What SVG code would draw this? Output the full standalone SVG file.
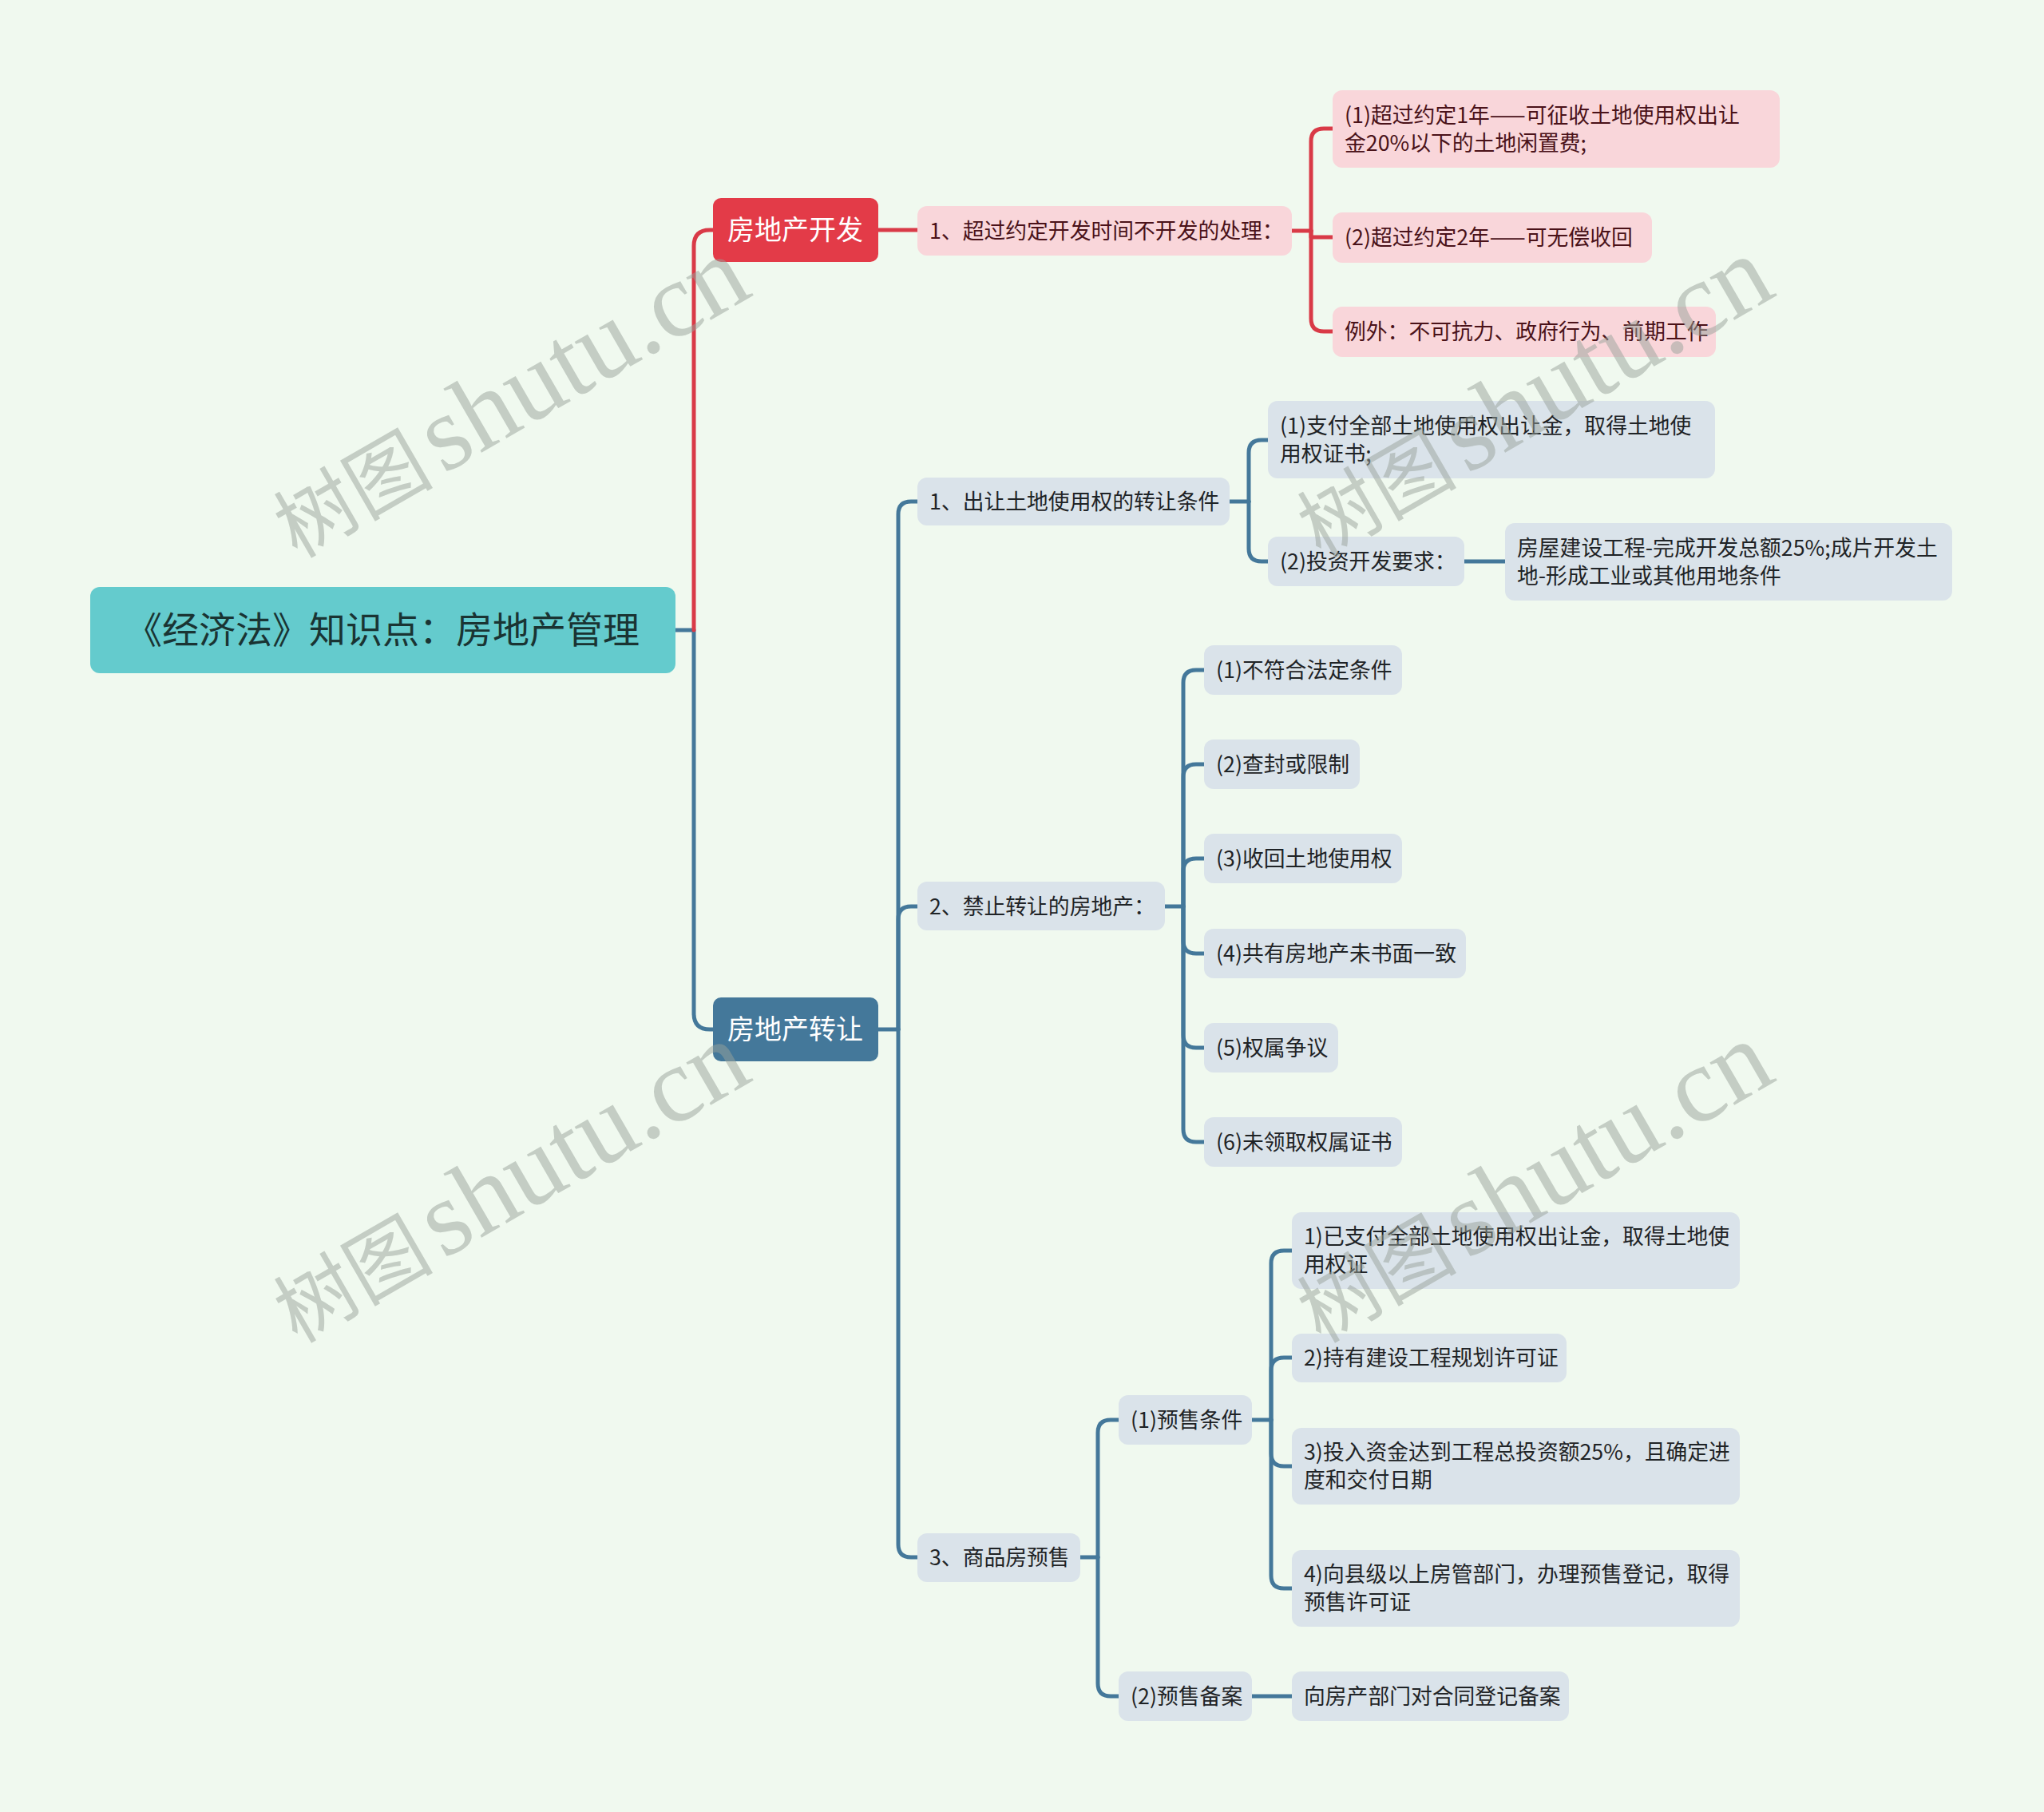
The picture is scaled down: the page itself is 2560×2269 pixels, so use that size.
<svg xmlns="http://www.w3.org/2000/svg" width="2560" height="2269" viewBox="0 0 2560 2269">
<style>
.bg{fill:#F0F9EF}
.t{font-family:"Noto Sans CJK SC","Noto Sans",sans-serif}
.root rect{fill:#64CBCD}
.root text{fill:#1A3433;font-size:46px}
.l1r rect{fill:#E33B48}
.l1b rect{fill:#44789A}
.l1r text,.l1b text{fill:#FFFFFF;font-size:34px}
.pk rect{fill:#F9D6DA}
.pk text{fill:#4A1219;font-size:26.8px}
.bl rect{fill:#DAE3EA}
.bl text{fill:#1F2326;font-size:26.8px}
.cr{fill:none;stroke:#D93A47;stroke-width:5;stroke-linecap:round;stroke-linejoin:round}
.cb{fill:none;stroke:#44789A;stroke-width:5;stroke-linecap:round;stroke-linejoin:round}
.wm{fill:#97A299;fill-opacity:0.5;font-family:"Liberation Serif","Noto Sans CJK SC",serif}
</style>
<rect class="bg" x="0" y="0" width="2560" height="2269"/>

<g id="connectors">
<path class="cb" d="M846,789 H869 V1269 Q869,1289 889,1289 H893"/>
<path class="cr" d="M869,789 V308 Q869,288 889,288 H893"/>
<path class="cr" d="M1100,288 H1149"/>
<path class="cr" d="M1618,289 H1642"/>
<path class="cr" d="M1642,289 V177 Q1642,161 1658,161 H1669"/>
<path class="cr" d="M1642,289 V297 H1669"/>
<path class="cr" d="M1642,289 V399 Q1642,415 1658,415 H1669"/>

<path class="cb" d="M1100,1289 H1125"/>
<path class="cb" d="M1125,1289 V644 Q1125,628 1141,628 H1149"/>
<path class="cb" d="M1125,1289 V1151 Q1125,1135 1141,1135 H1149"/>
<path class="cb" d="M1125,1289 V1934 Q1125,1950 1141,1950 H1149"/>

<path class="cb" d="M1540,628 H1564"/>
<path class="cb" d="M1564,628 V567 Q1564,551 1580,551 H1588"/>
<path class="cb" d="M1564,628 V687 Q1564,703 1580,703 H1588"/>
<path class="cb" d="M1834,703 H1885"/>

<path class="cb" d="M1459,1135 H1482"/>
<path class="cb" d="M1482,1135 V855 Q1482,839 1498,839 H1508"/>
<path class="cb" d="M1482,1135 V973 Q1482,957 1498,957 H1508"/>
<path class="cb" d="M1482,1135 V1091 Q1482,1075 1498,1075 H1508"/>
<path class="cb" d="M1482,1135 V1178 Q1482,1194 1498,1194 H1508"/>
<path class="cb" d="M1482,1135 V1296 Q1482,1312 1498,1312 H1508"/>
<path class="cb" d="M1482,1135 V1414 Q1482,1430 1498,1430 H1508"/>

<path class="cb" d="M1353,1950 H1375"/>
<path class="cb" d="M1375,1950 V1794 Q1375,1778 1391,1778 H1401"/>
<path class="cb" d="M1375,1950 V2108 Q1375,2124 1391,2124 H1401"/>

<path class="cb" d="M1568,1778 H1592"/>
<path class="cb" d="M1592,1778 V1582 Q1592,1566 1608,1566 H1618"/>
<path class="cb" d="M1592,1778 V1716 Q1592,1700 1608,1700 H1618"/>
<path class="cb" d="M1592,1778 V1820 Q1592,1836 1608,1836 H1618"/>
<path class="cb" d="M1592,1778 V1973 Q1592,1989 1608,1989 H1618"/>
<path class="cb" d="M1568,2124 H1618"/>
</g>

<g id="root" class="root t">
<rect x="113" y="735" width="733" height="108" rx="12"/>
<text x="479" y="805" text-anchor="middle">《经济法》知识点：房地产管理</text>
</g>

<g id="dev" class="l1r t">
<rect x="893" y="248" width="207" height="80" rx="10"/>
<text x="996" y="300" text-anchor="middle">房地产开发</text>
</g>
<g id="transfer" class="l1b t">
<rect x="893" y="1249" width="207" height="80" rx="10"/>
<text x="996" y="1301" text-anchor="middle">房地产转让</text>
</g>

<g id="dev-1" class="pk t">
<rect x="1149" y="258" width="469" height="62" rx="12"/>
<text x="1164" y="299">1、超过约定开发时间不开发的处理：</text>
</g>
<g id="dev-1-1" class="pk t">
<rect x="1669" y="113" width="560" height="97" rx="12"/>
<text x="1684" y="154">(1)超过约定1年——可征收土地使用权出让</text>
<text x="1684" y="189">金20%以下的土地闲置费;</text>
</g>
<g id="dev-1-2" class="pk t">
<rect x="1669" y="266" width="400" height="63" rx="12"/>
<text x="1684" y="307">(2)超过约定2年——可无偿收回</text>
</g>
<g id="dev-1-3" class="pk t">
<rect x="1669" y="384" width="480" height="63" rx="12"/>
<text x="1684" y="425">例外：不可抗力、政府行为、前期工作</text>
</g>

<g id="tr-1" class="bl t">
<rect x="1149" y="598" width="391" height="60" rx="12"/>
<text x="1164" y="638">1、出让土地使用权的转让条件</text>
</g>
<g id="tr-1-1" class="bl t">
<rect x="1588" y="502" width="560" height="97" rx="12"/>
<text x="1603" y="543">(1)支付全部土地使用权出让金，取得土地使</text>
<text x="1603" y="578">用权证书;</text>
</g>
<g id="tr-1-2" class="bl t">
<rect x="1588" y="672" width="246" height="62" rx="12"/>
<text x="1603" y="713">(2)投资开发要求：</text>
</g>
<g id="tr-1-2-1" class="bl t">
<rect x="1885" y="655" width="560" height="97" rx="12"/>
<text x="1900" y="696">房屋建设工程-完成开发总额25%;成片开发土</text>
<text x="1900" y="731">地-形成工业或其他用地条件</text>
</g>

<g id="tr-2" class="bl t">
<rect x="1149" y="1104" width="310" height="61" rx="12"/>
<text x="1164" y="1145">2、禁止转让的房地产：</text>
</g>
<g id="tr-2-1" class="bl t">
<rect x="1508" y="808" width="248" height="62" rx="12"/>
<text x="1523" y="849">(1)不符合法定条件</text>
</g>
<g id="tr-2-2" class="bl t">
<rect x="1508" y="926" width="195" height="62" rx="12"/>
<text x="1523" y="967">(2)查封或限制</text>
</g>
<g id="tr-2-3" class="bl t">
<rect x="1508" y="1044" width="248" height="62" rx="12"/>
<text x="1523" y="1085">(3)收回土地使用权</text>
</g>
<g id="tr-2-4" class="bl t">
<rect x="1508" y="1163" width="328" height="62" rx="12"/>
<text x="1523" y="1204">(4)共有房地产未书面一致</text>
</g>
<g id="tr-2-5" class="bl t">
<rect x="1508" y="1281" width="168" height="62" rx="12"/>
<text x="1523" y="1322">(5)权属争议</text>
</g>
<g id="tr-2-6" class="bl t">
<rect x="1508" y="1399" width="248" height="62" rx="12"/>
<text x="1523" y="1440">(6)未领取权属证书</text>
</g>

<g id="tr-3" class="bl t">
<rect x="1149" y="1920" width="204" height="61" rx="12"/>
<text x="1164" y="1960">3、商品房预售</text>
</g>
<g id="tr-3-1" class="bl t">
<rect x="1401" y="1747" width="167" height="62" rx="12"/>
<text x="1416" y="1788">(1)预售条件</text>
</g>
<g id="tr-3-1-1" class="bl t">
<rect x="1618" y="1518" width="561" height="96" rx="12"/>
<text x="1633" y="1558">1)已支付全部土地使用权出让金，取得土地使</text>
<text x="1633" y="1593">用权证</text>
</g>
<g id="tr-3-1-2" class="bl t">
<rect x="1618" y="1670" width="344" height="61" rx="12"/>
<text x="1633" y="1710">2)持有建设工程规划许可证</text>
</g>
<g id="tr-3-1-3" class="bl t">
<rect x="1618" y="1788" width="561" height="96" rx="12"/>
<text x="1633" y="1828">3)投入资金达到工程总投资额25%，且确定进</text>
<text x="1633" y="1863">度和交付日期</text>
</g>
<g id="tr-3-1-4" class="bl t">
<rect x="1618" y="1941" width="561" height="96" rx="12"/>
<text x="1633" y="1981">4)向县级以上房管部门，办理预售登记，取得</text>
<text x="1633" y="2016">预售许可证</text>
</g>
<g id="tr-3-2" class="bl t">
<rect x="1401" y="2093" width="167" height="62" rx="12"/>
<text x="1416" y="2134">(2)预售备案</text>
</g>
<g id="tr-3-2-1" class="bl t">
<rect x="1618" y="2093" width="347" height="62" rx="12"/>
<text x="1633" y="2134">向房产部门对合同登记备案</text>
</g>

<g id="watermarks">
<text class="wm" transform="translate(372,700) rotate(-30)"><tspan font-size="100">树图</tspan><tspan font-size="134" dx="12">shutu.cn</tspan></text>
<text class="wm" transform="translate(372,1683) rotate(-30)"><tspan font-size="100">树图</tspan><tspan font-size="134" dx="12">shutu.cn</tspan></text>
<text class="wm" transform="translate(1654,700) rotate(-30)"><tspan font-size="100">树图</tspan><tspan font-size="134" dx="12">shutu.cn</tspan></text>
<text class="wm" transform="translate(1654,1683) rotate(-30)"><tspan font-size="100">树图</tspan><tspan font-size="134" dx="12">shutu.cn</tspan></text>
</g>
</svg>
